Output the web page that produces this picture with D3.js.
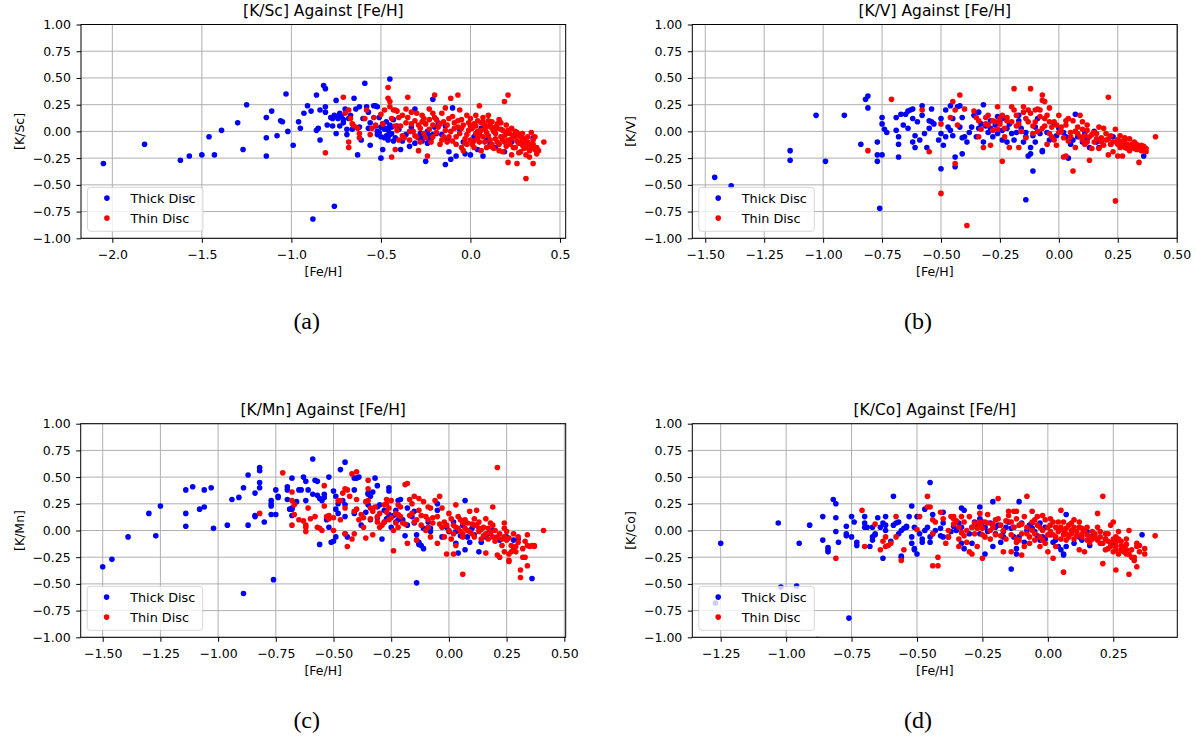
<!DOCTYPE html>
<html>
<head>
<meta charset="utf-8">
<script src="https://cdn.jsdelivr.net/npm/d3@7"></script>
<style>
  html, body { margin: 0; padding: 0; background: #fff; }
  svg { display: block; }
  text { fill: #000; }
</style>
</head>
<body>
<svg id="fig" width="1196" height="741"></svg>
<script>
// ---- [K/Sc] vs [Fe/H] : [Fe/H], [K/Sc] ----
const thickSc = [
[-2.05,-0.30],[-1.82,-0.12],[-1.62,-0.27],[-1.57,-0.23],[-1.50,-0.22],[-1.46,-0.05],[-1.43,-0.22],[-1.39,0.01],[-1.30,0.08],[-1.25,0.25],[-1.27,-0.17],[-1.14,0.13],[-1.14,-0.06],[-1.14,-0.23],[-1.11,0.19],[-1.08,-0.04],[-1.06,0.10],[-1.05,0.09],[-1.03,0.35],[-1.02,0.00],[-0.99,-0.13],[-0.96,0.09],[-0.95,0.03],[-0.93,0.17],[-0.91,0.24],[-0.89,0.19],[-0.86,0.34],[-0.86,0.01],[-0.85,0.03],[-0.84,0.20],[-0.84,-0.08],[-0.82,0.43],[-0.81,0.40],[-0.81,0.23],[-0.81,0.18],[-0.80,0.06],[-0.78,0.13],[-0.77,0.05],[-0.76,-0.70],[-0.88,-0.82],[-0.75,0.29],[-0.75,-0.02],[-0.74,0.12],[-0.73,0.05],[-0.72,0.14],[-0.70,0.21],[-0.69,0.02],[-0.67,0.15],[-0.65,0.31],[-0.64,0.21],[-0.63,-0.22],[-0.62,0.04],[-0.62,0.23],[-0.61,-0.08],[-0.59,0.45],[-0.58,0.23],[-0.57,0.18],[-0.56,0.08],[-0.56,-0.13],[-0.54,0.24],[-0.53,0.24],[-0.52,0.23],[-0.52,0.00],[-0.51,0.13],[-0.50,-0.05],[-0.50,-0.25],[-0.49,-0.17],[-0.48,0.02],[-0.47,-0.04],[-0.46,0.01],[-0.45,-0.03],[-0.45,0.49],[-0.44,0.04],[-0.39,-0.17],[-0.34,-0.14],[-0.31,0.21],[-0.29,-0.06],[-0.28,-0.02],[-0.27,-0.09],[-0.26,-0.04],[-0.25,-0.02],[-0.24,0.00],[-0.24,-0.11],[-0.22,-0.07],[-0.22,-0.04],[-0.25,-0.28],[-0.21,0.30],[-0.20,0.04],[-0.19,-0.02],[-0.14,-0.31],[-0.13,-0.08],[-0.12,-0.19],[-0.11,-0.26],[-0.10,0.22],[-0.08,-0.23],[-0.03,-0.21],[0.00,-0.22],[0.04,-0.17],[0.07,-0.23],[0.11,-0.12],[0.19,-0.19],[0.35,-0.06],[-1.57,-0.62],
[-0.53,0.05],[-0.51,-0.01],[-0.49,0.07],[-0.47,0.09],[-0.46,-0.05],[-0.44,-0.02],[-0.43,0.11],[-0.42,-0.06],[-0.40,0.02],[-0.38,-0.09],[-0.36,-0.03],[-0.33,0.04],[-0.31,-0.11],[-0.18,0.08],[-0.16,-0.03],[-0.14,0.05],[-0.06,0.02],[-0.04,-0.10],[0.02,-0.05],[0.06,0.03],[0.09,-0.08],[0.14,-0.15],[0.23,-0.10],[-0.66,0.02],[-0.69,-0.03],[-0.60,0.12],[-0.71,0.08],[-0.57,0.03],
[-0.77,0.12],[-0.76,0.15],[-0.74,0.13],[-0.73,0.17],[-0.71,0.11],[-0.68,0.12],
[-0.52,-0.03],[-0.50,0.04],[-0.48,-0.06],[-0.47,0.03],[-0.46,-0.08],[-0.45,0.06],[-0.43,-0.09],[-0.41,0.05],[-0.24,-0.05],[-0.23,-0.09],[-0.21,-0.03],[-0.27,-0.05]
];
const thinSc = [
[-0.81,-0.20],[-0.71,0.32],[-0.70,0.17],[-0.68,-0.15],[-0.68,-0.10],[-0.68,0.20],[-0.67,0.12],[-0.66,0.07],[-0.65,0.05],[-0.63,0.03],[-0.62,-0.02],[-0.62,-0.06],[-0.59,0.12],[-0.58,0.20],[-0.56,-0.03],[-0.55,0.03],[-0.54,0.13],[-0.53,0.06],[-0.50,0.16],[-0.49,0.07],[-0.48,0.20],[-0.46,0.41],[-0.46,0.31],[-0.45,0.28],[-0.45,0.23],[-0.43,0.20],[-0.42,0.20],[-0.41,0.19],[-0.44,-0.24],[-0.42,-0.17],[-0.41,0.01],[-0.40,0.13],[-0.39,0.05],[-0.38,-0.04],[-0.37,-0.06],[-0.36,0.21],[-0.35,0.32],[-0.35,0.13],[-0.34,-0.08],[-0.33,0.07],[-0.31,0.10],[-0.30,0.17],[-0.29,-0.18],[-0.28,0.03],[-0.27,0.15],[-0.26,-0.02],[-0.25,0.07],[-0.24,-0.23],[-0.23,0.21],[-0.23,0.11],[-0.21,0.17],[-0.21,0.06],[-0.20,0.34],[-0.19,0.11],[-0.19,-0.01],[-0.17,-0.12],[-0.16,0.17],[-0.15,-0.05],[-0.14,0.22],[-0.13,0.06],[-0.12,-0.05],[-0.11,0.31],[-0.10,0.14],[-0.09,0.03],[-0.08,-0.12],[-0.07,0.34],[-0.07,0.10],[-0.06,-0.02],[-0.06,0.20],[-0.05,-0.15],[-0.04,0.06],[-0.03,-0.07],[-0.02,0.15],[-0.01,0.01],
[0.00,0.12],[0.00,-0.08],[0.02,0.07],[0.02,-0.15],[0.03,-0.02],[0.04,0.10],[0.05,-0.10],[0.05,0.24],[0.06,0.01],[0.07,0.13],[0.07,-0.05],[0.08,0.06],[0.09,-0.15],[0.09,-0.01],[0.10,0.10],[0.11,-0.08],[0.12,0.03],[0.13,-0.16],[0.14,-0.02],[0.15,0.07],[0.16,-0.12],[0.17,-0.05],[0.18,0.01],[0.18,-0.19],[0.19,0.28],[0.20,0.06],[0.21,0.34],[0.21,-0.29],[0.21,-0.08],[0.22,-0.02],[0.23,0.03],[0.24,-0.15],[0.25,-0.05],[0.26,-0.30],[0.27,-0.11],[0.28,-0.05],[0.28,-0.19],[0.29,-0.13],[0.30,-0.07],[0.31,-0.22],[0.31,-0.15],[0.32,-0.10],[0.33,-0.24],[0.34,-0.16],[0.34,-0.01],[0.35,-0.30],[0.35,-0.08],[0.36,-0.17],[0.37,-0.21],[0.37,-0.15],[0.31,-0.44],[0.41,-0.10],
[-0.32,0.00],[-0.30,-0.05],[-0.27,0.09],[-0.22,-0.10],[-0.18,0.04],[-0.15,0.09],[-0.13,-0.10],[-0.11,0.00],[-0.09,0.08],[-0.08,-0.05],[-0.05,0.03],[-0.04,-0.18],[-0.02,-0.03],[-0.01,0.08],[0.01,0.03],[0.01,-0.12],[0.03,0.05],[0.04,-0.06],[0.06,-0.18],[0.06,0.08],[0.08,-0.10],[0.08,0.02],[0.10,-0.04],[0.11,0.06],[0.12,-0.12],[0.13,0.00],[0.14,-0.07],[0.15,0.03],[0.16,-0.18],[0.17,0.02],[0.19,-0.10],[0.20,-0.02],[0.22,-0.12],[0.23,-0.22],[0.24,-0.04],[0.25,-0.15],[0.26,-0.09],[0.27,-0.20],[0.29,-0.02],[0.30,-0.16],[0.32,-0.05],[0.33,-0.12],[0.26,-0.01],[0.16,0.11],[0.10,0.15],[-0.02,-0.12],[0.04,0.00],[0.12,0.09],[0.18,-0.08],[0.20,-0.14],
[-0.44,0.12],[-0.42,0.05],[-0.40,-0.08],[-0.38,0.15],[-0.36,0.08],[-0.34,0.00],[-0.33,0.18],[-0.31,-0.04],[-0.29,0.06],[-0.28,-0.10],[-0.26,0.12],[-0.25,-0.06],[-0.23,0.02],[-0.21,-0.05],[-0.20,0.13],[-0.17,0.07],[-0.16,-0.08],[-0.14,0.01],[-0.12,0.12],[-0.10,-0.09],[-0.07,0.04],[-0.05,0.11],[-0.03,-0.11],[0.00,0.05],[0.02,-0.09],[0.03,0.15],[0.05,-0.03],[0.07,0.09],[0.09,0.04],[0.11,-0.14],[0.14,0.04],[0.15,-0.10],[0.17,0.08],[0.19,-0.04],[0.21,0.01],[0.23,-0.07],[0.25,0.00],[0.27,-0.03],[0.29,-0.09],[0.31,-0.11],[0.33,-0.18],[0.35,-0.12],[0.36,-0.05],[0.38,-0.18]
];

// ---- [K/V] vs [Fe/H] ----
const thickV = [
[-1.46,-0.43],[-1.39,-0.51],[-1.14,-0.18],[-1.14,-0.27],[-1.03,0.15],[-0.99,-0.28],[-0.91,0.15],[-0.84,-0.12],[-0.82,0.30],[-0.81,0.33],[-0.81,0.22],[-0.77,-0.10],[-0.77,-0.22],[-0.77,-0.28],[-0.76,-0.72],[-0.75,-0.22],[-0.75,0.13],[-0.75,0.07],[-0.74,0.02],[-0.73,-0.01],[-0.69,0.13],[-0.69,0.01],[-0.68,-0.24],[-0.68,-0.05],[-0.68,-0.12],
[-0.67,0.16],[-0.65,0.16],[-0.66,0.06],[-0.64,0.19],[-0.63,0.20],[-0.62,0.21],[-0.64,0.03],[-0.62,0.12],[-0.61,-0.04],[-0.61,-0.15],[-0.62,-0.10],[-0.60,0.09],[-0.59,-0.08],[-0.58,0.24],[-0.58,0.15],[-0.57,-0.02],[-0.56,-0.15],[-0.55,0.10],[-0.55,0.03],[-0.54,0.21],[-0.54,0.09],[-0.53,0.07],[-0.51,-0.08],[-0.50,-0.02],[-0.50,0.12],[-0.50,-0.35],[-0.49,-0.13],[-0.48,0.20],[-0.48,-0.05],[-0.47,0.04],[-0.46,0.24],[-0.46,0.01],[-0.45,0.12],[-0.45,-0.04],[-0.44,-0.24],[-0.44,-0.33],[-0.43,0.23],[-0.42,0.24],[-0.42,0.04],[-0.41,0.13],[-0.41,-0.21],[-0.41,-0.06],
[-0.40,-0.05],[-0.39,-0.10],[-0.38,-0.01],[-0.37,0.04],[-0.36,0.15],[-0.35,-0.05],[-0.34,0.18],[-0.34,0.03],[-0.33,0.07],[-0.32,0.25],[-0.32,-0.10],[-0.31,0.05],[-0.30,-0.01],[-0.29,0.10],[-0.29,0.03],[-0.28,-0.05],[-0.27,0.06],[-0.26,-0.02],[-0.26,0.14],[-0.25,0.10],[-0.24,-0.08],[-0.24,0.01],[-0.23,0.12],[-0.22,0.03],[-0.22,-0.10],[-0.21,0.07],[-0.20,-0.02],[-0.19,-0.08],[-0.18,-0.01],[-0.17,0.15],[-0.17,0.10],[-0.16,0.03],[-0.15,-0.10],[-0.14,-0.05],[-0.14,-0.01],[-0.13,-0.23],[-0.12,-0.15],[-0.12,-0.21],[-0.11,-0.37],[-0.11,-0.04],[-0.10,0.04],[-0.10,-0.10],[-0.09,0.12],[-0.08,-0.02],[-0.07,-0.18],[-0.07,-0.19],[-0.14,-0.64],[-0.05,-0.01],[-0.04,-0.08],[-0.02,0.07],[-0.01,-0.04],[0.00,0.03],[0.02,-0.01],[0.03,-0.05],[0.04,-0.25],[0.05,-0.12],[0.06,-0.08],[0.07,0.16],[0.08,-0.05],[0.10,-0.10],[0.11,-0.02],[0.12,-0.07],[0.13,-0.15],[0.15,0.00],[0.16,-0.10],[0.17,-0.15],[0.22,-0.12],[0.23,-0.05],[0.25,-0.08],[0.36,-0.23],[0.32,-0.15]
];
const thinV = [
[-0.81,-0.18],[-0.71,0.30],[-0.58,0.20],[-0.55,-0.19],[-0.50,0.07],[-0.50,-0.58],[-0.46,0.13],[-0.45,0.28],[-0.44,-0.30],[-0.44,0.20],[-0.43,0.06],[-0.42,0.34],[-0.40,0.21],[-0.39,-0.88],
[-0.36,0.19],[-0.35,0.13],[-0.34,-0.05],[-0.34,0.10],[-0.32,-0.15],[-0.31,0.13],[-0.31,0.07],[-0.30,0.06],[-0.29,-0.13],[-0.28,0.10],[-0.27,0.09],[-0.26,0.23],[-0.26,0.02],[-0.25,0.07],[-0.24,0.15],[-0.24,-0.28],[-0.23,-0.05],[-0.22,0.10],[-0.22,0.13],[-0.21,-0.15],[-0.20,0.23],[-0.19,0.40],[-0.19,0.20],[-0.18,0.15],[-0.17,-0.15],[-0.17,0.07],[-0.15,0.23],[-0.15,0.18],[-0.14,-0.06],[-0.14,0.12],[-0.13,0.20],[-0.12,0.40],[-0.12,0.17],[-0.11,-0.02],[-0.10,0.20],[-0.10,0.09],[-0.09,0.21],[-0.08,0.20],[-0.07,0.29],[-0.07,0.34],[-0.07,0.03],[-0.06,0.28],[-0.06,0.12],[-0.05,-0.12],[-0.05,0.15],[-0.04,-0.02],[-0.04,0.22],[-0.03,0.04],[-0.02,-0.08],[-0.02,0.09],[-0.01,-0.13],[0.00,-0.01],[0.00,0.15],[0.01,0.04],[0.02,-0.24],[0.02,-0.06],[0.03,-0.23],[0.03,0.06],[0.04,0.12],[0.05,-0.01],[0.05,-0.05],[0.06,-0.37],[0.06,0.10],[0.07,-0.15],[0.08,0.04],[0.08,-0.02],[0.09,0.15],[0.10,-0.08],[0.10,0.09],[0.11,-0.04],[0.11,-0.12],[0.12,0.01],[0.12,0.06],[0.13,-0.27],[0.13,-0.05],[0.14,-0.16],[0.15,-0.01],[0.15,-0.10],[0.16,-0.02],[0.17,-0.16],[0.17,0.04],[0.18,-0.06],[0.19,0.03],[0.19,-0.13],[0.20,-0.02],[0.21,0.32],[0.21,-0.22],[0.21,-0.07],[0.22,-0.12],[0.22,-0.04],[0.23,-0.19],[0.24,-0.65],[0.24,0.02],[0.25,-0.08],[0.25,-0.23],[0.26,-0.15],[0.26,-0.04],[0.27,-0.23],[0.27,-0.12],[0.28,-0.08],[0.28,-0.06],[0.28,-0.15],[0.29,-0.13],[0.29,-0.12],[0.30,-0.18],[0.30,-0.07],[0.31,-0.15],[0.32,-0.10],[0.32,-0.16],[0.33,-0.12],[0.34,-0.29],[0.34,-0.15],[0.35,-0.18],[0.36,-0.14],[0.37,-0.16],[0.37,-0.19],[0.41,-0.05],
[-0.33,0.02],[-0.30,0.15],[-0.28,0.01],[-0.25,0.12],[-0.23,0.03],[-0.20,0.09],[-0.18,0.05],[-0.16,0.00],[-0.13,0.09],[-0.11,0.05],[-0.09,0.00],[-0.08,0.14],[-0.06,0.05],[-0.04,0.09],[-0.03,-0.05],[-0.01,0.06],[0.01,0.00],[0.03,0.10],[0.04,-0.09],[0.07,0.00],[0.09,-0.05],[0.10,0.02],[0.12,-0.10],[0.14,-0.03],[0.16,-0.07],[0.18,-0.10],[0.20,-0.08],[0.23,-0.10],[0.25,-0.12],[0.27,-0.09],[0.29,-0.16],[0.31,-0.12],[0.33,-0.17],[0.35,-0.13]
];

// ---- [K/Mn] vs [Fe/H] ----
const thickMn = [
[-1.50,-0.34],[-1.46,-0.27],[-1.39,-0.06],[-1.30,0.16],[-1.27,-0.05],[-1.25,0.23],[-1.14,0.38],[-1.14,0.16],[-1.14,0.04],[-1.11,0.41],[-1.08,0.20],[-1.06,0.22],[-1.06,0.38],[-1.03,0.40],[-1.02,0.02],[-0.96,0.05],[-0.94,0.29],[-0.91,0.31],[-0.89,0.40],[-0.89,-0.59],[-0.87,0.52],[-0.87,0.05],[-0.84,0.35],[-0.84,0.14],[-0.84,0.13],[-0.82,0.56],[-0.82,0.59],[-0.82,0.45],[-0.82,0.40],[-0.80,0.08],[-0.77,0.28],[-0.77,0.25],[-0.77,0.23],[-0.77,0.15],[-0.76,-0.46],[-0.75,0.38],[-0.75,0.15],[-0.74,0.31],[-0.74,0.32],[-0.70,0.38],[-0.70,0.41],[-0.70,0.29],[-0.69,0.20],[-0.68,0.20],[-0.68,0.14],[-0.68,0.49],[-0.68,0.21],[-0.66,0.27],[-0.65,0.38],
[-0.64,0.38],[-0.63,0.50],[-0.62,0.46],[-0.62,0.28],[-0.61,0.38],[-0.59,0.67],[-0.59,0.34],[-0.58,0.47],[-0.57,0.46],[-0.57,0.33],[-0.56,0.30],[-0.55,0.28],[-0.56,-0.13],[-0.54,0.34],[-0.54,0.31],[-0.53,0.10],[-0.52,0.50],[-0.52,0.03],[-0.51,-0.11],[-0.50,-0.10],[-0.49,-0.06],[-0.50,0.37],[-0.49,0.20],[-0.49,0.32],[-0.48,0.25],[-0.48,0.16],[-0.47,0.57],[-0.46,0.28],[-0.45,0.64],[-0.45,0.24],[-0.45,-0.03],[-0.44,-0.06],[-0.45,0.13],[-0.41,0.49],[-0.40,0.49],[-0.39,0.50],[-0.41,0.16],[-0.41,0.38],[-0.38,0.05],[-0.36,0.17],[-0.35,0.35],[-0.35,0.34],[-0.35,0.24],[-0.34,0.10],[-0.34,0.32],[-0.32,0.49],[-0.31,0.42],[-0.33,0.36],[-0.31,0.12],[-0.31,0.22],[-0.30,0.24],[-0.29,-0.08],[-0.28,0.08],[-0.28,0.19],[-0.27,0.11],[-0.26,0.15],[-0.26,0.40],[-0.26,0.37],[-0.25,0.03],[-0.24,0.14],[-0.23,0.08],[-0.23,0.19],[-0.22,0.10],[-0.22,0.28],[-0.21,0.29],[-0.20,0.10],[-0.19,-0.05],[-0.18,0.05],[-0.18,0.21],[-0.16,0.13],[-0.15,0.18],[-0.15,0.07],[-0.14,-0.04],[-0.14,-0.09],[-0.13,-0.11],[-0.13,-0.13],[-0.12,-0.14],[-0.11,-0.17],[-0.11,0.02],[-0.14,-0.49],[-0.09,0.08],[-0.08,0.02],[-0.08,-0.01],[-0.05,0.25],[-0.05,0.19],[-0.03,-0.06],[-0.01,0.03],[0.00,-0.01],[0.02,0.08],[0.03,-0.12],[0.03,-0.01],[0.04,-0.21],[0.05,-0.05],[0.06,0.05],[0.07,0.28],[0.07,-0.18],[0.08,-0.06],[0.09,-0.11],[0.10,0.02],[0.11,-0.04],[0.13,-0.20],[0.14,-0.11],[0.16,-0.06],[0.17,-0.03],[0.19,0.00],[0.21,-0.08],[0.22,-0.09],[0.25,-0.06],[0.28,-0.09],[0.30,-0.08],[0.36,-0.45]
];
const thinMn = [
[-0.82,0.16],[-0.72,0.54],[-0.68,0.36],[-0.68,0.28],[-0.68,0.05],[-0.67,0.24],[-0.67,0.15],[-0.65,0.10],
[-0.63,0.09],[-0.62,0.05],[-0.62,-0.01],[-0.62,0.03],[-0.61,0.21],[-0.60,0.11],[-0.58,0.13],[-0.57,0.03],[-0.56,0.02],[-0.55,0.00],[-0.54,0.42],[-0.54,0.23],[-0.53,0.13],[-0.52,0.11],[-0.52,0.14],[-0.50,0.12],[-0.50,0.00],[-0.48,0.28],[-0.47,0.10],[-0.47,0.28],[-0.46,0.35],[-0.45,0.21],[-0.45,-0.03],[-0.45,0.39],[-0.44,-0.15],[-0.44,0.38],[-0.43,0.32],[-0.42,-0.08],[-0.42,0.53],[-0.41,0.18],[-0.41,-0.03],[-0.40,0.55],[-0.40,0.29],[-0.39,0.10],[-0.38,0.15],[-0.37,0.03],[-0.36,0.27],[-0.36,-0.07],[-0.35,0.28],[-0.35,0.47],[-0.35,0.39],[-0.34,0.21],[-0.34,0.11],[-0.33,-0.04],[-0.32,0.22],[-0.31,0.13],[-0.31,0.08],[-0.30,0.16],[-0.29,0.05],[-0.28,0.24],[-0.28,0.08],[-0.27,0.29],[-0.27,0.25],[-0.26,0.10],[-0.26,0.21],[-0.25,0.28],[-0.24,0.00],[-0.24,-0.19],[-0.23,0.07],[-0.23,0.16],[-0.22,0.24],[-0.22,0.03],[-0.21,0.13],[-0.21,0.22],[-0.20,0.07],[-0.19,0.43],[-0.18,0.44],[-0.18,-0.12],[-0.17,0.29],[-0.17,0.14],[-0.16,0.25],[-0.15,0.08],[-0.15,0.32],[-0.14,-0.09],[-0.13,0.19],[-0.13,0.30],[-0.12,0.05],[-0.11,0.27],[-0.10,0.13],[-0.10,0.00],[-0.09,0.22],[-0.09,0.10],[-0.08,-0.06],[-0.08,0.21],[-0.07,0.07],[-0.06,0.28],[-0.05,-0.12],[-0.05,0.13],[-0.04,0.32],[-0.03,0.03],[-0.03,0.21],[-0.02,-0.06],[-0.02,0.08],[-0.01,-0.22],[0.00,0.16],[0.00,0.00],[0.01,-0.08],[0.01,0.11],[0.02,0.05],[0.02,-0.22],[0.03,0.24],[0.03,0.03],[0.04,0.13],[0.05,-0.01],[0.06,0.07],[0.06,-0.41],[0.06,-0.03],[0.07,0.10],[0.08,0.00],[0.08,0.07],[0.09,0.18],[0.10,-0.03],[0.11,0.11],[0.11,-0.06],[0.12,0.19],[0.12,0.05],[0.13,0.02],[0.13,0.08],[0.14,-0.08],[0.15,0.03],[0.16,0.11],[0.16,-0.21],[0.16,-0.03],[0.17,0.02],[0.18,0.07],[0.19,0.22],[0.19,-0.06],[0.19,0.05],[0.20,0.00],[0.21,-0.23],[0.21,0.59],[0.21,-0.06],[0.22,-0.25],[0.23,-0.08],[0.24,0.02],[0.24,0.07],[0.24,-0.20],[0.25,-0.09],[0.25,-0.01],[0.26,-0.29],[0.26,-0.22],[0.27,-0.14],[0.28,-0.03],[0.29,-0.15],[0.29,-0.20],[0.30,-0.06],[0.31,-0.37],[0.31,-0.44],[0.32,-0.25],[0.33,-0.25],[0.34,-0.04],[0.34,-0.33],[0.34,-0.14],[0.35,-0.15],[0.36,-0.14],[0.37,-0.14],[0.37,-0.15],[0.41,0.00],[0.26,-0.28],[0.28,-0.18],[0.24,-0.06],[0.13,-0.01],[0.11,0.05],[0.07,0.02],[0.06,-0.06],[0.03,-0.14],
[-0.40,0.20],[-0.37,0.12],[-0.33,0.18],[-0.30,0.03],[-0.27,0.17],[-0.25,0.12],[-0.22,0.15],[-0.19,0.06],[-0.16,0.16],[-0.14,0.10],[-0.12,0.14],[-0.09,0.03],[-0.07,0.12],[-0.04,0.06],[-0.01,0.05],[0.02,-0.03],[0.04,0.02],[0.05,0.10],[0.09,-0.01],[0.10,0.06],[0.14,0.01],[0.15,-0.05],[0.17,-0.08],[0.18,-0.02],[0.20,-0.10],[0.22,-0.03],[0.23,-0.14],[0.26,-0.07],[0.27,-0.20],[0.30,-0.11],[0.32,-0.17],[0.33,-0.10]
];

// ---- [K/Co] vs [Fe/H] ----
const thickCo = [
[-1.25,-0.12],[-1.27,-0.68],[-1.02,-0.53],[-0.96,-0.52],[-1.03,0.07],[-0.95,-0.12],[-0.91,0.05],[-0.86,0.13],[-0.86,-0.09],[-0.84,-0.16],[-0.84,-0.18],[-0.84,-0.20],[-0.82,0.29],[-0.81,0.25],[-0.81,0.12],[-0.81,-0.01],[-0.80,-0.11],[-0.77,0.04],[-0.77,-0.03],[-0.77,-0.05],[-0.76,-0.82],[-0.75,0.13],[-0.75,-0.06],[-0.74,0.08],[-0.73,-0.11],[-0.73,-0.14],[-0.70,0.13],[-0.70,0.07],[-0.70,0.03],[-0.69,0.03],[-0.68,-0.15],[-0.67,-0.09],[-0.67,-0.06],[-0.66,-0.04],[-0.66,-0.03],[-0.67,0.03],[-0.65,0.12],[-0.64,0.03],[-0.63,0.07],[-0.62,0.05],[-0.63,-0.26],[-0.62,0.13],[-0.62,0.00],[-0.60,-0.10],[-0.59,0.32],[-0.59,0.05],[-0.58,0.07],[-0.57,0.08],[-0.57,-0.03],[-0.56,-0.24],[-0.88,-1.02],
[-0.56,-0.25],[-0.56,0.00],[-0.55,0.02],[-0.54,0.03],[-0.54,0.04],[-0.53,0.13],[-0.52,0.23],[-0.52,-0.12],[-0.51,-0.17],[-0.51,-0.18],[-0.50,-0.22],[-0.52,-0.06],[-0.51,0.03],[-0.50,0.13],[-0.49,-0.03],[-0.48,-0.08],[-0.48,-0.11],[-0.47,0.20],[-0.47,0.00],[-0.46,0.03],[-0.45,-0.06],[-0.45,-0.11],[-0.44,-0.03],[-0.45,0.45],[-0.44,0.15],[-0.43,0.00],[-0.41,-0.05],[-0.41,0.02],[-0.40,0.07],[-0.40,-0.06],[-0.40,0.17],[-0.38,-0.06],[-0.37,-0.01],[-0.36,0.04],[-0.35,0.00],[-0.34,0.07],[-0.33,0.03],[-0.33,0.21],[-0.32,0.19],[-0.33,-0.12],[-0.32,-0.17],
[-0.30,-0.03],[-0.29,-0.12],[-0.29,0.03],[-0.28,0.08],[-0.27,0.05],[-0.26,0.22],[-0.26,0.11],[-0.26,-0.03],[-0.25,0.08],[-0.24,-0.22],[-0.24,0.03],[-0.23,-0.01],[-0.22,0.07],[-0.21,0.27],[-0.21,-0.15],[-0.20,-0.03],[-0.20,0.03],[-0.19,0.05],[-0.18,-0.11],[-0.17,-0.01],[-0.17,-0.06],[-0.16,0.03],[-0.15,0.08],[-0.14,-0.36],[-0.14,0.02],[-0.13,-0.06],[-0.13,0.03],[-0.12,-0.17],[-0.12,-0.22],[-0.11,-0.06],[-0.11,0.27],[-0.10,0.07],[-0.09,-0.11],[-0.08,0.00],[-0.07,0.05],[-0.06,0.07],[-0.06,0.02],[-0.05,-0.01],[-0.04,-0.05],[-0.03,-0.09],[-0.03,0.07],[-0.02,-0.06],[-0.01,0.03],[-0.01,-0.08],[0.01,-0.04],[0.02,-0.11],[0.03,-0.09],[0.04,-0.15],[0.05,-0.18],[0.06,-0.23],[0.06,-0.22],[0.07,0.15],[0.07,-0.15],[0.10,-0.12],[0.12,-0.06],[0.13,-0.09],[0.15,-0.01],[0.16,-0.14],[0.17,-0.06],[0.22,-0.08],[0.25,-0.11],[0.27,-0.09],[0.36,-0.04]
];
const thinCo = [
[-0.71,0.19],[-0.81,-0.26],[-0.70,-0.15],[-0.66,0.06],[-0.63,-0.10],[-0.64,-0.18],[-0.62,-0.06],[-0.62,-0.15],[-0.61,-0.14],[-0.60,-0.12],[-0.58,0.13],[-0.58,-0.06],[-0.56,-0.28],
[-0.55,-0.18],[-0.50,0.01],[-0.49,0.13],[-0.46,0.32],[-0.46,0.22],[-0.45,0.22],[-0.44,-0.33],[-0.42,-0.33],[-0.44,0.10],[-0.43,0.08],[-0.44,-0.03],[-0.42,-0.25],[-0.41,0.17],[-0.40,0.11],
[-0.39,-0.12],[-0.38,0.00],[-0.38,-0.06],[-0.37,0.13],[-0.36,0.13],[-0.36,0.11],[-0.35,0.09],[-0.34,-0.15],[-0.34,0.03],[-0.34,-0.08],[-0.33,0.13],[-0.32,0.08],[-0.32,-0.05],[-0.31,0.00],[-0.31,-0.11],[-0.30,0.13],[-0.30,-0.20],[-0.29,0.03],[-0.29,-0.22],[-0.28,-0.03],[-0.27,0.02],[-0.27,-0.15],[-0.26,0.08],[-0.26,0.16],[-0.26,0.05],[-0.25,0.02],[-0.25,-0.26],[-0.24,0.08],[-0.24,-0.06],[-0.23,0.15],[-0.23,0.07],[-0.22,0.00],[-0.22,-0.08],[-0.21,0.03],[-0.20,0.10],[-0.20,-0.04],[-0.19,0.30],[-0.19,0.11],[-0.18,0.05],[-0.17,-0.20],[-0.17,0.00],[-0.16,-0.08],[-0.15,0.18],[-0.15,0.14],[-0.14,-0.20],[-0.14,0.08],[-0.13,0.18],[-0.13,0.03],[-0.12,-0.11],[-0.12,-0.08],[-0.12,0.18],[-0.12,0.11],[-0.11,0.05],[-0.11,-0.09],[-0.10,-0.03],[-0.10,-0.23],[-0.09,-0.15],[-0.09,0.13],[-0.08,0.03],[-0.08,0.32],[-0.07,-0.12],[-0.07,-0.06],[-0.06,0.18],[-0.06,0.00],[-0.06,0.08],[-0.05,-0.09],[-0.05,-0.03],[-0.05,0.10],[-0.04,0.13],[-0.03,-0.15],[-0.03,0.03],[-0.03,-0.06],[-0.02,0.14],[-0.02,0.00],[-0.01,-0.12],[-0.01,0.10],[0.00,-0.20],[0.00,0.03],[0.00,-0.04],[0.01,0.11],[0.01,-0.01],[0.02,-0.26],[0.02,0.08],[0.03,-0.06],[0.03,0.03],[0.03,-0.15],[0.04,0.08],[0.04,-0.01],[0.05,0.19],[0.05,-0.08],[0.05,0.03],[0.06,-0.39],[0.06,0.00],[0.06,-0.04],[0.06,0.08],[0.07,-0.09],[0.07,0.02],[0.08,0.05],[0.08,-0.06],[0.09,0.00],[0.09,-0.03],[0.10,0.10],[0.10,0.03],[0.10,-0.08],[0.11,-0.01],[0.12,-0.18],[0.12,0.03],[0.12,0.08],[0.13,-0.06],[0.13,-0.03],[0.14,0.00],[0.14,-0.20],[0.15,-0.09],[0.15,0.03],[0.16,-0.06],[0.17,-0.01],[0.17,-0.08],[0.18,-0.03],[0.19,0.03],[0.19,0.16],[0.19,-0.09],[0.20,-0.06],[0.20,-0.01],[0.21,0.32],[0.21,-0.31],[0.21,-0.12],[0.22,-0.08],[0.22,-0.18],[0.23,-0.17],[0.23,-0.03],[0.24,0.05],[0.24,-0.15],[0.24,-0.12],[0.25,0.08],[0.25,-0.20],[0.25,-0.08],[0.26,-0.11],[0.26,-0.37],[0.26,-0.18],[0.26,-0.15],[0.27,-0.22],[0.27,-0.01],[0.27,-0.08],[0.28,-0.18],[0.28,-0.14],[0.29,-0.15],[0.29,-0.20],[0.30,-0.18],[0.30,-0.08],[0.30,-0.22],[0.31,-0.41],[0.31,0.00],[0.31,-0.22],[0.33,-0.25],[0.33,-0.28],[0.32,-0.25],[0.34,-0.34],[0.34,-0.12],[0.34,-0.15],[0.35,-0.14],[0.37,-0.17],[0.37,-0.22],[0.41,-0.05],
[-0.36,0.06],[-0.33,-0.02],[-0.28,0.07],[-0.25,-0.04],[-0.21,0.06],[-0.18,-0.05],[-0.16,0.09],[-0.14,-0.04],[-0.10,0.06],[-0.08,-0.03],[-0.04,0.05],[-0.02,-0.09],[0.01,0.05],[0.02,-0.04],[0.04,0.02],[0.07,-0.03],[0.09,0.07],[0.11,-0.05],[0.13,0.02],[0.15,-0.04],[0.16,-0.11],[0.18,-0.06],[0.20,-0.12],[0.22,-0.03],[0.23,-0.10],[0.26,-0.06],[0.28,-0.10],[0.30,-0.13],[0.32,-0.18],[0.35,-0.20]
];

// ---- tick values ----
const xTicksSc = [-2.0, -1.5, -1.0, -0.5, 0.0, 0.5];
const xTicksV  = [-1.5, -1.25, -1.0, -0.75, -0.5, -0.25, 0.0, 0.25, 0.5];
const xTicksMn = [-1.5, -1.25, -1.0, -0.75, -0.5, -0.25, 0.0, 0.25, 0.5];
const xTicksCo = [-1.25, -1.0, -0.75, -0.5, -0.25, 0.0, 0.25];
const yTicks   = [-1.0, -0.75, -0.5, -0.25, 0.0, 0.25, 0.5, 0.75, 1.0];
const seriesNames = ["Thick Disc", "Thin Disc"];
const seriesColors = ["#0000ff", "#ff0000"];

// ---- panel layout ----
const panels = [
  { id: "a", title: "[K/Sc] Against [Fe/H]", ylab: "[K/Sc]", thick: thickSc, thin: thinSc,
    xDom: [-2.175, 0.532], xTicks: xTicksSc, xFmt: ".1f",
    left: 81, right: 565.7, top: 24.5, bottom: 238.3, cap: "(a)", capX: 306.7 },
  { id: "b", title: "[K/V] Against [Fe/H]", ylab: "[K/V]", thick: thickV, thin: thinV,
    xDom: [-1.555, 0.5025], xTicks: xTicksV, xFmt: ".2f",
    left: 692.3, right: 1177.3, top: 24.5, bottom: 238.3, cap: "(b)", capX: 918 },
  { id: "c", title: "[K/Mn] Against [Fe/H]", ylab: "[K/Mn]", thick: thickMn, thin: thinMn,
    xDom: [-1.5953, 0.506], xTicks: xTicksMn, xFmt: ".2f",
    left: 80.7, right: 565.7, top: 423.7, bottom: 637.3, cap: "(c)", capX: 306.7 },
  { id: "d", title: "[K/Co] Against [Fe/H]", ylab: "[K/Co]", thick: thickCo, thin: thinCo,
    xDom: [-1.3585, 0.4946], xTicks: xTicksCo, xFmt: ".2f",
    left: 692.3, right: 1177.3, top: 423.7, bottom: 637.3, cap: "(d)", capX: 918 }
];

const SANS = '"DejaVu Sans", sans-serif';
const SERIF = '"Liberation Serif", "DejaVu Serif", serif';
const svg = d3.select("#fig");
const R = 2.8;

panels.forEach(p => {
  const x = d3.scaleLinear().domain(p.xDom).range([p.left, p.right]);
  const y = d3.scaleLinear().domain([-1, 1]).range([p.bottom, p.top]);
  const g = svg.append("g").style("font-family", SANS);

  // clip region for the plotting area
  const clipId = "clip-" + p.id;
  svg.append("clipPath").attr("id", clipId)
    .append("rect").attr("x", p.left).attr("y", p.top)
    .attr("width", p.right - p.left).attr("height", p.bottom - p.top);

  // grid
  const grid = g.append("g").attr("stroke", "#b0b0b0").attr("stroke-width", 1);
  grid.selectAll(".gx").data(p.xTicks).join("line")
    .attr("x1", d => x(d)).attr("x2", d => x(d))
    .attr("y1", p.top).attr("y2", p.bottom);
  grid.selectAll(".gy").data(yTicks).join("line")
    .attr("x1", p.left).attr("x2", p.right)
    .attr("y1", d => y(d)).attr("y2", d => y(d));

  // points: thick disc first, thin disc on top
  const pts = g.append("g").attr("clip-path", `url(#${clipId})`);
  [p.thick, p.thin].forEach((data, i) => {
    pts.append("g").selectAll("circle").data(data).join("circle")
      .attr("cx", d => x(d[0])).attr("cy", d => y(d[1]))
      .attr("r", R).attr("fill", seriesColors[i]);
  });

  // frame
  g.append("rect").attr("x", p.left).attr("y", p.top)
    .attr("width", p.right - p.left).attr("height", p.bottom - p.top)
    .attr("fill", "none").attr("stroke", "#000").attr("stroke-width", 1);

  // axes
  const xAxis = d3.axisBottom(x).tickValues(p.xTicks).tickFormat(d3.format(p.xFmt))
    .tickSize(4.5).tickPadding(7);
  const yAxis = d3.axisLeft(y).tickValues(yTicks).tickFormat(d3.format(".2f"))
    .tickSize(4.5).tickPadding(5.5);
  const gx = g.append("g").attr("transform", `translate(0,${p.bottom})`).call(xAxis);
  const gy = g.append("g").attr("transform", `translate(${p.left},0)`).call(yAxis);
  [gx, gy].forEach(a => {
    a.attr("font-family", null);
    a.select(".domain").remove();
    a.selectAll("line").attr("stroke", "#000").attr("stroke-width", 1);
    a.selectAll("text").style("font-family", SANS).attr("font-size", 12.5).attr("fill", "#000");
  });

  // title and axis labels
  g.append("text").attr("x", (p.left + p.right) / 2).attr("y", p.top - 8.5)
    .attr("text-anchor", "middle").attr("font-size", 15.5).text(p.title);
  g.append("text").attr("x", (p.left + p.right) / 2).attr("y", p.bottom + 37.2)
    .attr("text-anchor", "middle").attr("font-size", 12.5).text("[Fe/H]");
  g.append("text")
    .attr("transform", `translate(${p.left - 57},${(p.top + p.bottom) / 2}) rotate(-90)`)
    .attr("text-anchor", "middle").attr("font-size", 12.5).text(p.ylab);

  // legend
  const lx = p.left + 6.5, ly = p.bottom - 51;
  const lg = g.append("g");
  lg.append("rect").attr("x", lx).attr("y", ly).attr("width", 115.5).attr("height", 44)
    .attr("rx", 3).attr("fill", "#fff").attr("fill-opacity", 0.8)
    .attr("stroke", "#cccccc").attr("stroke-opacity", 0.8).attr("stroke-width", 1);
  seriesNames.forEach((name, i) => {
    const ry = ly + 10.8 + i * 20;
    lg.append("circle").attr("cx", lx + 19.4).attr("cy", ry).attr("r", R).attr("fill", seriesColors[i]);
    lg.append("text").attr("x", lx + 43).attr("y", ry + 4.5).attr("font-size", 12.8).text(name);
  });

  // sub-figure caption
  svg.append("text").attr("x", p.capX).attr("y", p.bottom + 91)
    .attr("text-anchor", "middle").style("font-family", SERIF)
    .attr("font-size", 24).text(p.cap);
});
</script>
</body>
</html>
